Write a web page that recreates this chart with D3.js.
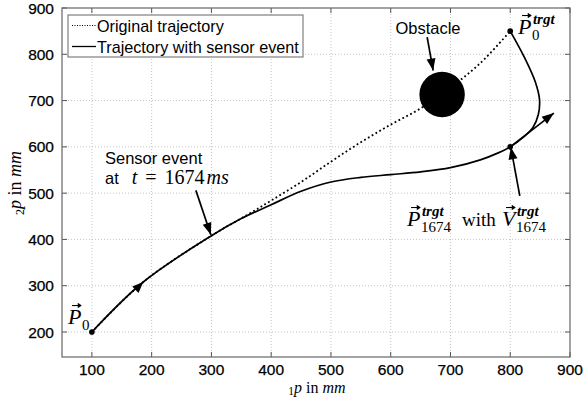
<!DOCTYPE html>
<html>
<head>
<meta charset="utf-8">
<script src="https://cdn.jsdelivr.net/npm/d3@7"></script>
<style>
  body { margin: 0; background: #fff; }
  svg { display: block; }
</style>
</head>
<body>
<div id="chart" style="width:583px;height:399px"></div>
<script>
// data (mm)
const xTicks = [100, 200, 300, 400, 500, 600, 700, 800, 900];
const yTicks = [200, 300, 400, 500, 600, 700, 800, 900];

// trajectory with sensor event
const solidX = [100, 186, 300, 350, 400, 450, 500, 550, 600, 650, 700, 750, 780, 800, 822, 838, 847, 849, 842, 825, 800];
const solidY = [200, 308, 408, 445, 475, 504, 524, 534, 540, 546, 555, 572, 587, 600, 621, 642, 670, 702, 740, 790, 850];

// original trajectory
const dottedX = [100, 186, 300, 360, 400, 450, 500, 550, 600, 650, 700, 750, 800];
const dottedY = [200, 308, 408, 453, 484, 524, 568, 610, 648, 683, 728, 781, 850];

// obstacle
const obstacleX = [686];
const obstacleY = [713];
const obstacleR = [38];

// marked points: P0, P0trgt, P1674
const pointX = [100, 800, 800];
const pointY = [200, 850, 600];

// velocity at t = 1674 ms
const velX = [800, 873];
const velY = [600, 673];

class TrajectoryChart {
  constructor(id) {
    this.id = id;
    this.width = 583;
    this.height = 399;
    // 坐标区
    this.margin = { top: 8, right: 13, bottom: 42, left: 62 };
    this.innerWidth = this.width - this.margin.left - this.margin.right;
    this.innerHeight = this.height - this.margin.top - this.margin.bottom;
    this.sans = 'Liberation Sans, Arial, Helvetica, sans-serif';
    this.serif = 'Liberation Serif, DejaVu Serif, serif';
    this.init();
  }
  init() {
    this.initSvg();
    this.initScale();
    this.initGrid();
    this.initLines();
    this.initMarks();
    this.initAxis();
    this.initLegend();
    this.initLabels();
  }
  initSvg() {
    this.svg = d3.select(`#${this.id}`).append('svg')
      .attr('width', this.width)
      .attr('height', this.height)
      .attr('viewBox', `0 0 ${this.width} ${this.height}`);
    this.mg = this.svg.append('g')
      .attr('transform', `translate(${this.margin.left},${this.margin.top})`);
  }
  initScale() {
    this.xScale = d3.scaleLinear().domain([50, 900]).range([0, this.innerWidth]);
    this.yScale = d3.scaleLinear().domain([146, 900]).range([this.innerHeight, 0]);
  }
  initGrid() {
    const g = this.mg.append('g');
    g.selectAll('.vg').data(xTicks.slice(0, -1)).join('line')
      .attr('x1', d => this.xScale(d)).attr('x2', d => this.xScale(d))
      .attr('y1', 0).attr('y2', this.innerHeight)
      .attr('stroke', '#b5b5b5').attr('stroke-width', 0.8)
      .attr('stroke-dasharray', '1,2');
    g.selectAll('.hg').data(yTicks.slice(0, -1)).join('line')
      .attr('y1', d => this.yScale(d)).attr('y2', d => this.yScale(d))
      .attr('x1', 0).attr('x2', this.innerWidth)
      .attr('stroke', '#b5b5b5').attr('stroke-width', 0.8)
      .attr('stroke-dasharray', '1,2');
  }
  initLines() {
    const line = d3.line()
      .x(d => this.xScale(d[0]))
      .y(d => this.yScale(d[1]))
      .curve(d3.curveCatmullRom.alpha(0.5));
    this.mg.append('path')
      .attr('d', line(d3.zip(dottedX, dottedY)))
      .attr('fill', 'none').attr('stroke', '#000')
      .attr('stroke-width', 1.8).attr('stroke-dasharray', '1.8,2.6');
    this.mg.append('path')
      .attr('d', line(d3.zip(solidX, solidY)))
      .attr('fill', 'none').attr('stroke', '#000').attr('stroke-width', 1.7);
  }
  arrowHead(x0, y0, x1, y1, len, wid) {
    // 箭头三角形, 尖端在 (x1,y1)
    const a = Math.atan2(y1 - y0, x1 - x0);
    const bx = x1 - len * Math.cos(a), by = y1 - len * Math.sin(a);
    const px = -Math.sin(a) * wid / 2, py = Math.cos(a) * wid / 2;
    this.mg.append('path')
      .attr('d', `M${x1},${y1}L${bx + px},${by + py}L${bx - px},${by - py}Z`)
      .attr('fill', '#000');
  }
  arrow(x0, y0, x1, y1) {
    this.mg.append('line')
      .attr('x1', x0).attr('y1', y0).attr('x2', x1).attr('y2', y1)
      .attr('stroke', '#000').attr('stroke-width', 1.7);
    this.arrowHead(x0, y0, x1, y1, 12, 9);
  }
  initMarks() {
    const x = this.xScale, y = this.yScale;
    // 障碍物
    this.mg.selectAll('.obs').data(obstacleX).join('circle')
      .attr('cx', d => x(d))
      .attr('cy', (d, i) => y(obstacleY[i]))
      .attr('r', (d, i) => x(d + obstacleR[i]) - x(d))
      .attr('fill', '#000');
    // 点
    this.mg.selectAll('.pt').data(pointX).join('circle')
      .attr('cx', d => x(d))
      .attr('cy', (d, i) => y(pointY[i]))
      .attr('r', 2.8).attr('fill', '#000');
    // 方向箭头 on the path
    this.arrowHead(x(solidX[0]), y(solidY[0]), x(solidX[1]), y(solidY[1]), 11, 9);
    // 速度
    this.arrow(x(velX[0]), y(velY[0]), x(velX[1]), y(velY[1]));
    // 注释箭头
    this.arrow(x(661), y(837), x(671), y(765));
    this.arrow(x(274), y(506), x(299), y(410));
    this.arrow(x(816), y(494), x(801), y(599));
  }
  initAxis() {
    const g = this.mg.append('g');
    const w = this.innerWidth, h = this.innerHeight;
    // 刻度 (inward, all sides)
    xTicks.forEach(t => {
      const px = this.xScale(t);
      g.append('line').attr('x1', px).attr('x2', px).attr('y1', h).attr('y2', h - 5)
        .attr('stroke', '#555').attr('stroke-width', 1);
      g.append('line').attr('x1', px).attr('x2', px).attr('y1', 0).attr('y2', 5)
        .attr('stroke', '#555').attr('stroke-width', 1);
      g.append('text').attr('x', px).attr('y', h + 18)
        .attr('text-anchor', 'middle')
        .style('font-family', this.sans).style('font-size', '15.5px')
        .attr('stroke', '#000').attr('stroke-width', 0.25)
        .text(t);
    });
    yTicks.forEach(t => {
      const py = this.yScale(t);
      g.append('line').attr('x1', 0).attr('x2', 5).attr('y1', py).attr('y2', py)
        .attr('stroke', '#555').attr('stroke-width', 1);
      g.append('line').attr('x1', w).attr('x2', w - 5).attr('y1', py).attr('y2', py)
        .attr('stroke', '#555').attr('stroke-width', 1);
      g.append('text').attr('x', -8).attr('y', py + 5.5)
        .attr('text-anchor', 'end')
        .style('font-family', this.sans).style('font-size', '15.5px')
        .attr('stroke', '#000').attr('stroke-width', 0.25)
        .text(t);
    });
    g.append('rect').attr('x', 0).attr('y', 0).attr('width', w).attr('height', h)
      .attr('fill', 'none').attr('stroke', '#666').attr('stroke-width', 1.2);
  }
  initLegend() {
    const lg = this.svg.append('g').attr('transform', 'translate(68,15)');
    lg.append('rect').attr('width', 235).attr('height', 42)
      .attr('fill', '#fff').attr('stroke', '#666').attr('stroke-width', 1);
    lg.append('line').attr('x1', 4).attr('x2', 28).attr('y1', 10.5).attr('y2', 10.5)
      .attr('stroke', '#000').attr('stroke-width', 1).attr('stroke-dasharray', '1,1.5');
    lg.append('line').attr('x1', 4).attr('x2', 28).attr('y1', 31.5).attr('y2', 31.5)
      .attr('stroke', '#000').attr('stroke-width', 1.3);
    lg.append('text').attr('x', 29).attr('y', 16.5)
      .style('font-family', this.sans).style('font-size', '16.2px')
      .text('Original trajectory');
    lg.append('text').attr('x', 29).attr('y', 37.5)
      .style('font-family', this.sans).style('font-size', '16.2px')
      .text('Trajectory with sensor event');
  }
  vecLabel(px, py, base, sub, sup, size) {
    // \vec{P}_sub^sup
    const g = this.svg.append('g');
    const t = g.append('text').attr('x', px).attr('y', py)
      .style('font-family', this.serif).style('font-style', 'italic')
      .style('font-size', size + 'px').text(base);
    const bw = t.node().getComputedTextLength();
    // vector arrow
    const ax0 = px + bw * 0.3, ax1 = px + bw * 0.95, ay = py - size * 0.84;
    g.append('line').attr('x1', ax0).attr('x2', ax1).attr('y1', ay).attr('y2', ay)
      .attr('stroke', '#000').attr('stroke-width', 1.1);
    g.append('path')
      .attr('d', `M${ax1 + 1},${ay}L${ax1 - 3},${ay - 2.7}L${ax1 - 3},${ay + 2.7}Z`)
      .attr('fill', '#000');
    const small = size * 0.68;
    if (sub) {
      g.append('text').attr('x', px + bw + 0.5).attr('y', py + size * 0.26)
        .style('font-family', this.serif)
        .style('font-size', small + 'px').text(sub);
    }
    if (sup) {
      g.append('text').attr('x', px + bw + 1.5).attr('y', py - size * 0.45)
        .style('font-family', this.serif).style('font-style', 'italic')
        .style('font-weight', 'bold')
        .style('font-size', small + 'px').text(sup);
    }
    return g;
  }
  initLabels() {
    const sans = this.sans, serif = this.serif;
    // Obstacle
    this.svg.append('text').attr('x', 428).attr('y', 34).attr('text-anchor', 'middle')
      .style('font-family', sans).style('font-size', '16.5px').text('Obstacle');
    // Sensor event
    this.svg.append('text').attr('x', 105).attr('y', 164)
      .style('font-family', sans).style('font-size', '16.5px').text('Sensor event');
    const s2 = this.svg.append('text').attr('x', 105).attr('y', 184)
      .style('font-size', '16.5px');
    s2.append('tspan').style('font-family', sans).text('at');
    s2.append('tspan').attr('dx', 13).style('font-family', serif)
      .style('font-style', 'italic').style('font-size', '20px').text('t');
    s2.append('tspan').attr('dx', 8).style('font-family', serif)
      .style('font-size', '20px').text('=');
    s2.append('tspan').attr('dx', 8).style('font-family', serif)
      .style('font-size', '20px').text('1674');
    s2.append('tspan').attr('dx', 2).style('font-family', serif)
      .style('font-style', 'italic').style('font-size', '20px').text('ms');

    // vector labels
    this.vecLabel(68, 324, 'P', '0', null, 22);
    this.vecLabel(518, 34, 'P', '0', 'trgt', 22);
    this.vecLabel(407, 226, 'P', '1674', 'trgt', 22);
    this.svg.append('text').attr('x', 462).attr('y', 226)
      .style('font-family', serif).style('font-size', '19px').text('with');
    this.vecLabel(502, 226, 'V', '1674', 'trgt', 22);

    // axis labels
    const xl = this.svg.append('text').attr('x', 317).attr('y', 393)
      .attr('text-anchor', 'middle').style('font-family', serif).style('font-size', '16px');
    xl.append('tspan').style('font-size', '11.5px').attr('dy', 2).text('1');
    xl.append('tspan').attr('dy', -2).style('font-style', 'italic').text('p');
    xl.append('tspan').text(' in ');
    xl.append('tspan').style('font-style', 'italic').text('mm');

    const yl = this.svg.append('text')
      .attr('transform', 'translate(21,183) rotate(-90)')
      .attr('text-anchor', 'middle').style('font-family', serif).style('font-size', '18px');
    yl.append('tspan').style('font-size', '12px').attr('dy', 3).text('2');
    yl.append('tspan').attr('dy', -3).style('font-style', 'italic').text('p');
    yl.append('tspan').text(' in ');
    yl.append('tspan').style('font-style', 'italic').text('mm');
  }
}

new TrajectoryChart('chart');
</script>
</body>
</html>
